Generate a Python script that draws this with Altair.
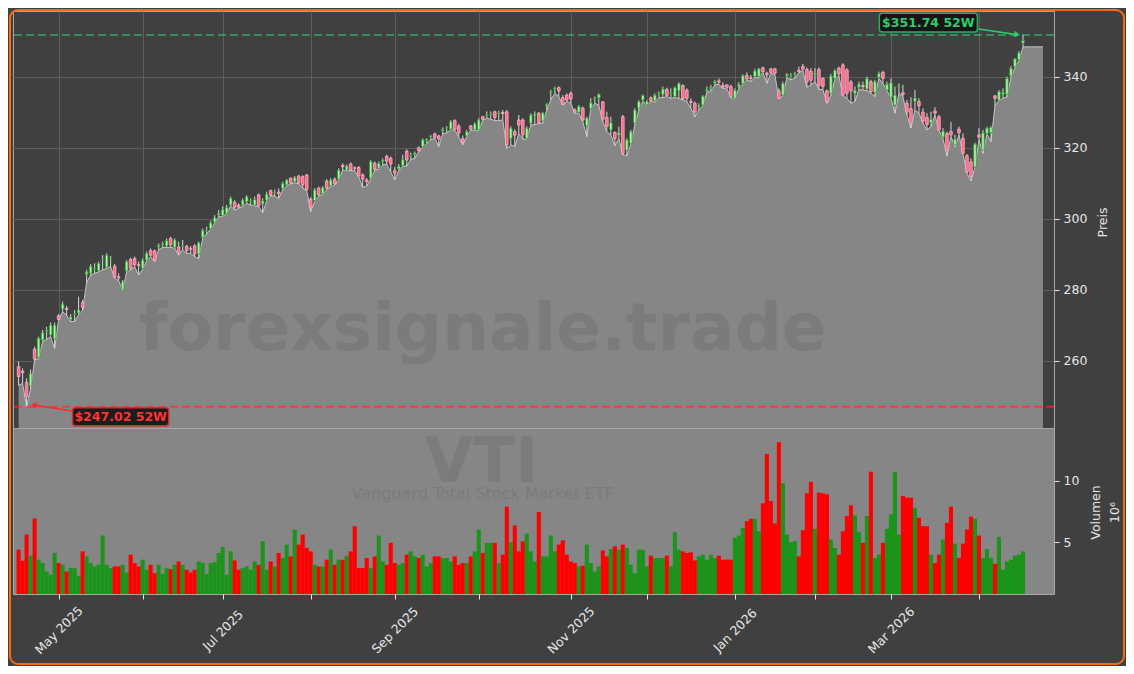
import altair as alt
import numpy as np
import pandas as pd

# ---------------- data ----------------
opens = [
    258.3, 257.0, 253.8, 252.8, 263.2, 260.9, 265.8, 268.3, 267.2, 266.1,
    272.6, 274.5, 274.7, 271.5, 273.0, 273.4, 276.3, 284.3, 284.6, 285.8,
    285.3, 288.5, 286.3, 288.9, 286.6, 283.6, 279.9, 285.2, 288.5, 288.7,
    287.0, 286.0, 288.3, 291.0, 290.9, 292.0, 292.6, 292.3, 294.4, 291.9,
    292.0, 292.2, 292.2, 291.5, 292.3, 290.0, 294.7, 296.6, 297.2, 299.0,
    301.0, 301.0, 301.5, 303.8, 304.6, 303.8, 303.8, 304.8, 305.0, 303.8,
    306.7, 304.1, 305.2, 307.9, 307.3, 307.5, 308.5, 309.5, 311.4, 310.4,
    312.0, 311.8, 312.3, 305.5, 305.1, 308.6, 307.0, 310.6, 309.2, 311.1,
    311.1, 315.0, 313.7, 315.4, 314.3, 314.4, 312.3, 310.9, 311.4, 315.6,
    314.2, 316.0, 317.5, 317.0, 313.5, 314.0, 315.0, 319.0, 317.5, 318.0,
    320.0, 320.3, 322.0, 323.0, 323.9, 323.3, 324.7, 325.5, 325.2, 327.6,
    326.1, 322.5, 323.3, 326.1, 325.0, 325.0, 328.7, 328.9, 329.2, 330.1,
    329.5, 329.9, 330.1, 322.5, 324.5, 327.8, 327.8, 322.6, 326.9, 329.0,
    329.7, 327.5, 331.7, 335.4, 336.5, 336.9, 334.1, 334.8, 335.3, 330.6,
    330.0, 331.1, 326.2, 331.0, 333.6, 334.0, 332.9, 328.5, 325.0, 324.3,
    323.5, 328.7, 319.3, 321.2, 326.9, 331.1, 333.4, 332.2, 334.1, 333.2,
    335.2, 335.0, 336.4, 335.2, 334.4, 336.0, 337.5, 336.2, 333.1, 332.5,
    331.5, 332.0, 336.0, 336.6, 338.1, 338.8, 337.5, 337.7, 337.2, 333.9,
    337.2, 338.1, 340.3, 339.7, 340.0, 340.0, 342.5, 341.0, 342.2, 342.2,
    336.0, 334.8, 340.2, 339.8, 340.5, 341.8, 342.9, 342.0, 341.5, 340.5,
    342.0, 339.5, 336.0, 335.3, 339.5, 342.4, 343.3, 341.9, 338.5, 335.3,
    337.0, 337.5, 336.5, 338.6, 335.5, 339.8, 341.2, 336.2, 334.2, 332.0,
    337.0, 335.5, 332.5, 331.0, 333.0, 333.0, 330.0, 328.5, 327.0, 330.3,
    328.7, 323.0, 324.0, 324.5, 320.8, 325.2, 322.6, 317.7, 316.0, 314.6,
    323.6, 319.3, 324.0, 324.2, 334.6, 333.4, 335.0, 335.0, 340.2, 342.8,
    344.8, 349.5,
]
highs = [
    259.7, 257.8, 255.0, 257.5, 263.9, 266.7, 268.6, 269.5, 270.7, 270.7,
    273.1, 276.6, 275.4, 273.1, 274.2, 278.0, 277.1, 285.6, 287.2, 287.4,
    287.9, 289.7, 290.2, 289.5, 287.2, 284.6, 282.7, 288.3, 289.0, 289.3,
    287.9, 288.8, 290.7, 291.6, 291.3, 293.0, 293.5, 294.4, 294.9, 294.4,
    293.5, 294.0, 292.6, 292.3, 292.8, 293.5, 297.2, 297.7, 299.4, 301.0,
    302.4, 303.4, 303.8, 306.2, 305.2, 304.3, 305.7, 306.6, 305.7, 306.2,
    307.1, 305.7, 307.6, 308.2, 308.2, 308.5, 310.4, 311.1, 311.6, 312.0,
    312.3, 312.2, 312.6, 306.0, 308.6, 309.0, 309.2, 311.1, 311.4, 311.6,
    314.2, 315.6, 315.3, 315.8, 314.7, 314.8, 312.8, 311.4, 316.5, 316.1,
    316.1, 317.0, 318.0, 317.5, 314.5, 315.4, 318.0, 319.5, 318.6, 318.9,
    320.3, 322.6, 322.6, 323.6, 324.2, 323.6, 325.7, 326.1, 327.8, 328.0,
    326.7, 323.4, 325.0, 326.4, 327.1, 328.3, 329.0, 330.2, 330.2, 330.4,
    330.4, 330.6, 330.6, 326.0, 325.2, 329.2, 328.3, 326.0, 329.7, 330.2,
    330.0, 330.1, 332.5, 336.3, 337.2, 337.2, 334.8, 335.3, 335.8, 331.1,
    332.0, 331.6, 328.7, 333.9, 334.4, 335.3, 333.1, 330.1, 328.7, 324.5,
    325.9, 329.2, 322.6, 325.0, 331.1, 333.4, 335.0, 333.4, 334.4, 335.3,
    335.8, 337.2, 336.9, 336.7, 337.2, 338.4, 337.8, 336.7, 333.9, 333.0,
    332.5, 334.8, 337.2, 337.7, 339.1, 339.5, 338.4, 337.8, 337.7, 336.7,
    338.4, 340.7, 341.2, 340.5, 342.2, 342.5, 342.8, 341.4, 342.5, 342.5,
    336.7, 338.6, 341.0, 341.0, 341.4, 342.8, 343.6, 342.6, 342.4, 342.4,
    342.6, 339.8, 336.4, 340.8, 342.1, 342.8, 343.8, 342.4, 339.1, 337.2,
    338.6, 338.6, 340.0, 339.1, 339.1, 341.4, 341.7, 338.6, 339.5, 337.2,
    338.1, 337.7, 333.4, 334.2, 336.2, 333.9, 331.1, 329.7, 330.1, 331.4,
    329.2, 325.5, 324.5, 327.3, 323.6, 325.9, 324.0, 318.2, 317.0, 321.4,
    325.5, 325.0, 325.9, 326.1, 334.8, 336.2, 336.7, 340.0, 343.0, 345.2,
    347.2, 351.74,
]
lows = [
    253.0, 253.6, 247.02, 252.0, 260.2, 260.5, 265.3, 266.0, 266.7, 263.4,
    271.4, 273.8, 272.8, 271.0, 271.0, 273.0, 274.2, 282.0, 284.1, 284.6,
    285.0, 285.5, 286.0, 286.5, 283.2, 282.5, 279.7, 285.0, 285.5, 286.5,
    284.1, 285.8, 288.1, 289.3, 287.9, 291.2, 291.9, 291.9, 291.9, 291.7,
    289.7, 291.2, 290.2, 290.2, 289.3, 288.8, 294.4, 295.7, 297.0, 298.7,
    300.5, 300.7, 301.3, 303.6, 302.4, 302.9, 303.4, 304.3, 303.8, 303.6,
    303.4, 301.7, 305.0, 306.4, 306.4, 305.7, 308.1, 309.2, 309.8, 310.1,
    309.8, 308.6, 307.9, 302.0, 304.8, 306.4, 306.7, 308.3, 309.0, 309.5,
    310.9, 313.7, 313.5, 313.5, 313.5, 311.8, 308.8, 309.2, 311.1, 313.7,
    313.9, 315.1, 315.4, 313.2, 310.9, 313.5, 314.8, 314.8, 316.7, 317.0,
    318.9, 320.1, 321.2, 322.2, 322.7, 320.3, 323.9, 324.2, 325.0, 324.9,
    323.1, 320.8, 323.1, 325.0, 324.8, 324.8, 327.7, 328.3, 328.0, 327.6,
    327.6, 327.8, 319.8, 320.8, 320.3, 324.0, 322.4, 322.4, 326.4, 326.5,
    326.8, 326.9, 330.6, 333.5, 335.3, 334.4, 332.0, 333.0, 332.5, 329.7,
    329.7, 327.3, 323.1, 331.0, 332.5, 332.0, 327.3, 324.5, 323.6, 320.6,
    322.6, 318.0, 317.7, 321.0, 326.4, 330.6, 333.0, 332.0, 333.0, 332.8,
    334.1, 334.1, 334.4, 333.9, 334.1, 333.9, 333.4, 333.0, 331.1, 328.7,
    330.6, 331.8, 335.6, 336.0, 337.7, 337.8, 336.7, 336.5, 334.1, 333.7,
    336.7, 337.8, 339.1, 338.6, 339.7, 339.7, 341.2, 338.1, 341.0, 340.5,
    333.7, 334.7, 339.7, 339.1, 339.5, 341.1, 341.7, 337.0, 337.7, 338.6,
    336.4, 336.4, 332.5, 334.8, 339.3, 340.2, 334.6, 333.9, 332.5, 333.0,
    336.4, 336.2, 336.1, 335.3, 334.4, 339.5, 338.1, 336.1, 333.9, 329.7,
    335.3, 334.4, 329.2, 325.5, 330.6, 329.7, 326.9, 325.0, 325.9, 329.2,
    324.8, 322.6, 317.6, 323.1, 320.3, 323.6, 318.2, 312.8, 310.6, 314.5,
    322.2, 318.4, 323.8, 321.7, 332.0, 333.2, 333.9, 334.3, 339.8, 342.5,
    344.5, 348.4,
]
closes = [
    255.5, 256.6, 249.8, 256.4, 260.4, 266.3, 267.9, 268.6, 270.0, 270.0,
    271.6, 275.9, 274.4, 272.3, 273.2, 274.3, 275.0, 285.0, 286.6, 286.0,
    287.4, 288.7, 289.7, 289.0, 283.5, 283.3, 282.2, 287.9, 285.9, 287.0,
    286.8, 288.3, 290.2, 289.7, 288.3, 292.4, 292.9, 293.8, 292.6, 294.0,
    290.5, 292.4, 291.0, 291.4, 290.0, 293.2, 296.6, 296.8, 298.8, 300.3,
    301.5, 302.6, 303.2, 305.7, 303.2, 303.2, 305.2, 306.2, 305.2, 305.4,
    303.6, 305.0, 306.9, 306.6, 307.5, 307.0, 309.9, 310.9, 310.0, 311.6,
    310.0, 309.5, 308.1, 303.0, 308.1, 306.7, 308.8, 308.6, 310.9, 309.8,
    313.7, 314.6, 314.8, 313.7, 314.2, 312.0, 311.1, 310.4, 316.1, 313.9,
    315.6, 316.5, 316.2, 315.4, 312.8, 314.8, 316.6, 316.5, 317.7, 318.5,
    319.1, 322.2, 322.4, 323.3, 322.9, 322.5, 325.1, 325.6, 327.3, 325.2,
    324.2, 321.5, 324.5, 325.2, 326.7, 327.8, 328.0, 329.2, 329.5, 328.5,
    329.8, 329.6, 320.8, 325.5, 323.5, 326.4, 323.6, 325.5, 329.2, 329.5,
    327.0, 329.7, 332.2, 335.8, 336.8, 336.0, 332.2, 333.4, 333.7, 330.0,
    331.6, 327.8, 328.3, 332.6, 333.8, 335.0, 328.0, 326.0, 327.0, 322.5,
    324.2, 318.3, 322.2, 324.5, 330.6, 333.0, 334.7, 333.0, 333.2, 334.8,
    335.5, 336.5, 334.7, 335.5, 336.9, 338.1, 333.7, 333.9, 332.7, 330.0,
    331.9, 334.5, 336.4, 337.0, 338.6, 338.5, 337.0, 337.0, 334.4, 336.2,
    337.8, 340.3, 339.3, 339.5, 341.6, 342.2, 341.4, 340.5, 341.2, 341.0,
    333.9, 338.1, 340.7, 340.0, 340.8, 341.4, 342.1, 338.5, 339.0, 341.0,
    337.5, 337.2, 333.0, 340.2, 341.7, 340.8, 334.8, 335.3, 336.0, 336.2,
    337.9, 337.2, 339.5, 335.8, 338.6, 340.9, 339.5, 337.9, 338.3, 334.8,
    337.3, 335.0, 330.0, 327.0, 334.0, 331.8, 327.5, 326.5, 328.0, 329.7,
    325.0, 324.7, 319.3, 323.6, 322.4, 324.2, 318.4, 313.2, 311.8, 321.0,
    323.0, 324.2, 325.5, 325.7, 333.9, 335.8, 335.5, 339.5, 342.4, 345.0,
    346.7, 350.2,
]
# volume in millions of shares
volumes = [
    4.40, 3.50, 5.63, 3.91, 6.94, 3.58, 3.31, 2.62, 2.35, 4.13,
    3.31, 3.17, 2.62, 2.90, 2.90, 2.27, 4.26, 3.85, 3.31, 3.03,
    3.17, 5.55, 3.17, 2.90, 3.03, 3.03, 3.17, 2.54, 3.99, 3.31,
    3.03, 3.58, 2.76, 3.17, 2.49, 3.17, 2.43, 2.90, 2.81, 3.17,
    3.44, 3.17, 2.76, 2.54, 2.76, 3.44, 3.31, 2.43, 3.31, 3.37,
    4.13, 4.62, 2.35, 4.26, 3.52, 2.76, 2.90, 3.03, 2.76, 3.44,
    3.17, 5.08, 2.76, 3.44, 3.03, 4.13, 3.72, 4.81, 3.85, 6.04,
    4.81, 5.63, 4.54, 4.26, 3.17, 3.03, 3.03, 3.58, 4.40, 3.17,
    3.58, 3.58, 3.91, 4.26, 6.31, 2.90, 2.90, 3.72, 2.90, 3.85,
    5.55, 3.44, 3.17, 4.95, 3.31, 3.17, 3.31, 3.99, 4.26, 3.85,
    3.72, 3.99, 3.03, 3.31, 3.85, 3.85, 3.72, 3.72, 3.44, 3.85,
    3.17, 3.31, 3.31, 3.85, 4.26, 6.04, 4.13, 4.95, 4.95, 4.95,
    3.31, 3.99, 7.90, 5.00, 6.37, 4.26, 5.08, 5.71, 4.26, 3.44,
    7.46, 3.85, 3.85, 5.55, 4.26, 4.81, 5.16, 3.99, 3.44, 3.31,
    3.03, 3.09, 4.81, 3.31, 2.62, 3.03, 4.34, 3.85, 4.45,
    4.67, 4.40, 4.81, 4.54, 3.17, 2.49, 4.40, 4.40, 3.03, 3.91,
    3.72, 3.72, 3.72, 3.91, 3.03, 5.82, 4.40, 4.26, 4.13, 4.18,
    3.52, 3.85, 3.99, 3.58, 3.99, 3.72, 3.91, 3.58, 3.58, 3.58,
    5.36, 5.55, 6.17, 6.72, 6.91, 6.91, 5.90, 8.17, 12.19, 8.36,
    6.53, 13.14, 9.81, 5.63, 5.00, 5.08, 3.85, 5.98, 8.99, 9.92,
    6.09, 9.04, 8.99, 8.91, 5.22, 4.54, 3.99, 5.90, 7.13, 8.01,
    7.19, 5.82, 4.95, 7.13, 10.74, 3.72, 3.99, 4.95, 6.09, 7.27,
    10.74, 5.63, 8.77, 8.63, 8.63, 7.81, 6.99, 6.31, 6.31, 3.99,
    3.31, 3.99, 5.22, 6.58, 7.90, 4.89, 3.72, 4.89, 6.04, 7.08,
    6.91, 5.55, 3.72, 4.45, 3.72, 3.25, 5.44, 2.76, 3.44, 3.58,
    3.91, 3.99, 4.26,
]

# trading-day index of the first session of each month (x ticks) and labels
month_tick_idx = [10, 31, 51, 73, 94, 115, 138, 157, 179, 199, 218, 240]
month_tick_labels = ["May 2025", "", "Jul 2025", "", "Sep 2025", "", "Nov 2025", "",
                     "Jan 2026", "", "Mar 2026", ""]
price_ticks = [260, 280, 300, 320, 340]
vol_ticks = [5, 10]

high_52w = 351.74
low_52w = 247.02
high_label = "$351.74 52W"
low_label = "$247.02 52W"
ticker = "VTI"
fund_name = "Vanguard Total Stock Market ETF"
watermark = "forexsignale.trade"
area_end_index = 256

# ---------------- styling ----------------
FONT = "DejaVu Sans"
TXT = "#e6e6e6"
BG = "#404040"
GRID = "#5e5e5e"
AREA = "#868686"
UP_FILL, UP_EDGE = "#b6ecb6", "#2a9d2a"
DN_FILL, DN_EDGE = "#ff6688", "#ffb3c6"
VOL_UP, VOL_DN = "#1c941c", "#ff0000"
W = 1041
H_PRICE = 417
H_VOL = 166

# ---------------- frames ----------------
n = len(closes)
idx = list(range(n))
candles = pd.DataFrame({"i": idx, "open": opens, "high": highs, "low": lows, "close": closes})
is_up = candles["close"] >= candles["open"]
candles["fill"] = np.where(is_up, UP_FILL, DN_FILL)
candles["edge"] = np.where(is_up, UP_EDGE, DN_EDGE)

area_df = pd.DataFrame({"i": idx + [area_end_index], "low": lows + [lows[-1]]})

nv = min(len(volumes), n)
vol_df = pd.DataFrame({"i": idx[:nv], "vol": volumes[:nv],
                       "c": np.where(is_up, VOL_UP, VOL_DN)[:nv]})

xs = alt.Scale(domain=[-0.15, 257.5], nice=False, zero=False)
ps = alt.Scale(domain=[241.0, 358.5], nice=False, zero=False)
vs = alt.Scale(domain=[0.79, 14.3], nice=False, zero=False)

x_axis_price = alt.Axis(values=month_tick_idx, labels=False, ticks=False, domain=False,
                        grid=True, gridColor=GRID, gridWidth=1, title=None)
y_axis_price = alt.Axis(orient="right", values=price_ticks, grid=True, gridColor=GRID, gridWidth=1,
                        domain=False, tickColor=TXT, tickSize=5, labelColor=TXT, labelFont=FONT,
                        labelFontSize=12.5, labelPadding=4, title="Preis", titleColor=TXT,
                        titleFont=FONT, titleFontSize=12.5, titleFontWeight="normal",
                        titleAngle=270, titleX=48, titleY=211, titleAlign="center",
                        titleBaseline="middle")


def PX(field):
    return alt.X(f"{field}:Q", scale=xs, axis=x_axis_price)


def PY(field):
    return alt.Y(f"{field}:Q", scale=ps, axis=y_axis_price)


area = alt.Chart(area_df).mark_area(
    color=AREA, opacity=1, line={"color": "#c4c4c4", "strokeWidth": 1}, clip=True
).encode(x=PX("i"), y=PY("low"), y2=alt.datum(241.0))

wm_df = pd.DataFrame({"i": [116.0], "p": [263.0], "t": [watermark]})
wm = alt.Chart(wm_df).mark_text(
    font=FONT, fontSize=66, fontWeight="bold", color="#000000", opacity=0.08,
    align="center", baseline="alphabetic"
).encode(x=PX("i"), y=PY("p"), text="t:N")

lines_df = pd.DataFrame({"p": [high_52w, low_52w], "c": ["#2ecc71", "#ff2a2a"]})
level_lines = alt.Chart(lines_df).mark_rule(strokeDash=[8, 4], strokeWidth=1.5, opacity=0.75).encode(
    y=PY("p"), color=alt.Color("c:N", scale=None))

wicks = alt.Chart(candles).mark_rule(color="#d9d9d9", strokeWidth=1).encode(
    x=PX("i"), y=PY("low"), y2=alt.Y2("high"))

bodies = alt.Chart(candles).mark_bar(size=2.6, strokeWidth=0.8).encode(
    x=PX("i"), y=PY("open"), y2=alt.Y2("close"),
    color=alt.Color("fill:N", scale=None),
    stroke=alt.Stroke("edge:N", scale=None),
)

arrows_df = pd.DataFrame({
    "x0": [239.9, 13.5], "x1": [249.3, 4.0],
    "y0": [353.44, 245.8], "y1": [351.9, 247.4],
    "c": ["#2ecc71", "#ff2a2a"],
})
arrow_lines = alt.Chart(arrows_df).mark_rule(strokeWidth=1.6).encode(
    x=PX("x0"), x2=alt.X2("x1"), y=PY("y0"), y2=alt.Y2("y1"), color=alt.Color("c:N", scale=None))

heads_df = pd.DataFrame({"x": [249.3, 4.0], "y": [351.9, 247.4], "a": [98, 278],
                         "c": ["#2ecc71", "#ff2a2a"]})
arrow_heads = alt.Chart(heads_df).mark_point(shape="triangle", filled=True, size=45, opacity=1).encode(
    x=PX("x"), y=PY("y"), angle=alt.Angle("a:Q", scale=None), color=alt.Color("c:N", scale=None))

boxes_df = pd.DataFrame({
    "x0": [215.1, 13.5], "x1": [239.6, 37.5],
    "y0": [357.9, 246.7], "y1": [352.6, 241.6],
    "s": ["#27ae60", "#d42a2a"],
})
boxes = alt.Chart(boxes_df).mark_rect(fill="#111111", fillOpacity=0.9, strokeWidth=1.5, cornerRadius=3).encode(
    x=PX("x0"), x2=alt.X2("x1"), y=PY("y0"), y2=alt.Y2("y1"), stroke=alt.Stroke("s:N", scale=None))

labels_df = pd.DataFrame({"x": [227.35, 25.5], "y": [355.25, 244.15], "t": [high_label, low_label],
                          "c": ["#2ecc71", "#ff3333"]})
labels = alt.Chart(labels_df).mark_text(font=FONT, fontSize=12.5, fontWeight="bold",
                                        align="center", baseline="middle").encode(
    x=PX("x"), y=PY("y"), text="t:N", color=alt.Color("c:N", scale=None))

# orange figure border (Vega pads bounds by the full stroke width)
frame = alt.Chart(pd.DataFrame({"k": [0]})).mark_rect(
    fillOpacity=0, stroke="#ff6a10", strokeWidth=2, cornerRadius=8
).encode(x=alt.value(-3), x2=alt.value(1111), y=alt.value(-1), y2=alt.value(653))

price = alt.layer(area, wm, level_lines, wicks, bodies, arrow_lines, arrow_heads, boxes, labels, frame).properties(
    width=W, height=H_PRICE)

# ---------------- volume panel ----------------
label_expr = " : ".join(f"datum.value == {v} ? '{l}'" for v, l in zip(month_tick_idx, month_tick_labels)) + " : ''"
x_axis_vol = alt.Axis(values=month_tick_idx, labelExpr=label_expr, labelAngle=315, labelAlign="center",
                      labelBaseline="middle", labelPadding=31, labelColor=TXT, labelFont=FONT,
                      labelFontSize=12.5, tickColor=TXT, tickSize=5, domain=False, grid=False,
                      title=None, labelOverlap=False, labelFlush=False)
y_axis_vol = alt.Axis(orient="right", values=vol_ticks, grid=False, domain=False, tickColor=TXT, tickSize=5,
                      labelColor=TXT, labelFont=FONT, labelFontSize=12.5, labelPadding=4,
                      title=["Volumen", "10⁶"], titleColor=TXT, titleFont=FONT, titleFontSize=12.5,
                      titleFontWeight="normal", titleAngle=270, titleX=41, titleY=84,
                      titleAlign="center", titleBaseline="middle", titleLineHeight=19)


def VX(field):
    return alt.X(f"{field}:Q", scale=xs, axis=x_axis_vol)


def VY(field):
    return alt.Y(f"{field}:Q", scale=vs, axis=y_axis_vol)


vbars = alt.Chart(vol_df).mark_bar(size=4.1, clip=True).encode(
    x=VX("i"), y=VY("vol"), y2=alt.datum(0),
    color=alt.Color("c:N", scale=None),
)

vt_df = pd.DataFrame({"i": [115.7, 116.0], "v": [9.92, 8.55], "t": [ticker, fund_name]})
vt_big = alt.Chart(vt_df.iloc[[0]]).mark_text(
    font=FONT, fontSize=62, fontWeight="bold", color="#000000", opacity=0.08,
    align="center", baseline="alphabetic").encode(x=VX("i"), y=VY("v"), text="t:N")
vt_small = alt.Chart(vt_df.iloc[[1]]).mark_text(
    font=FONT, fontSize=16, color="#000000", opacity=0.08,
    align="center", baseline="alphabetic").encode(x=VX("i"), y=VY("v"), text="t:N")

volume = alt.layer(vt_big, vt_small, vbars).properties(
    width=W, height=H_VOL, view=alt.ViewBackground(fill=AREA, stroke="#a6a6a6"))

chart = alt.vconcat(price, volume, spacing=0, bounds="flush").properties(
    background=BG, padding=0
).configure_view(stroke="#a6a6a6", strokeWidth=1)

chart.save("out.html", embed_options={"renderer": "svg", "actions": False})
